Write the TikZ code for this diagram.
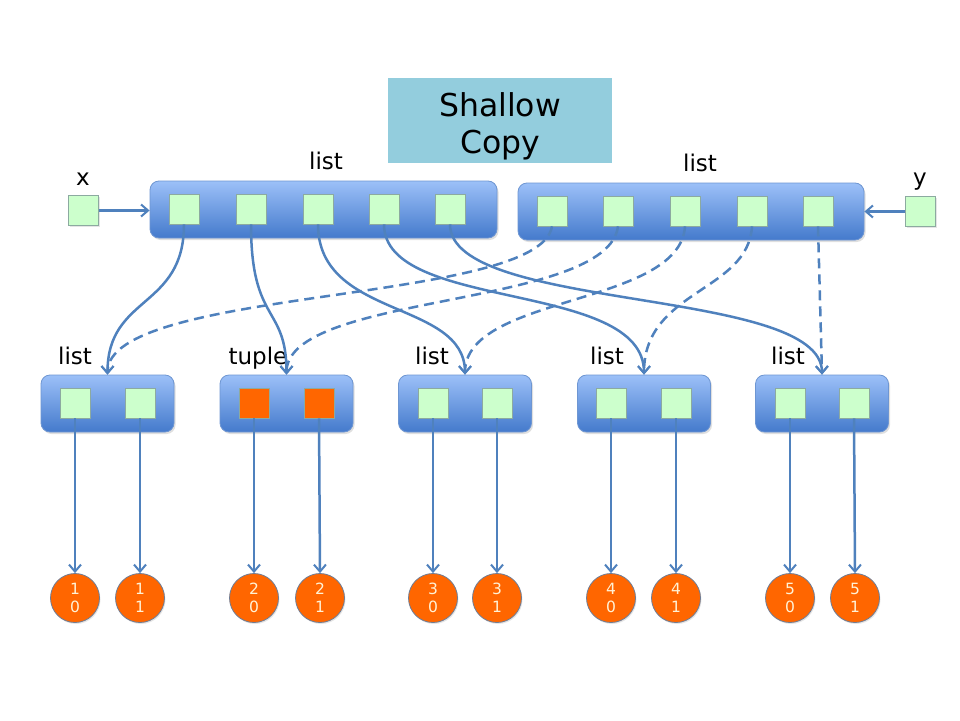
\documentclass[tikz,border=0pt]{standalone}
\usepackage{fontspec}
\setmainfont{DejaVu Sans}
\usetikzlibrary{arrows.meta,shadows}
\definecolor{arr}{RGB}{79,129,189}
\definecolor{boxtop}{RGB}{156,192,248}
\definecolor{boxbot}{RGB}{68,122,204}
\definecolor{boxedge}{RGB}{110,150,210}
\definecolor{cellfill}{RGB}{204,255,204}
\definecolor{celledge}{RGB}{140,170,160}
\definecolor{orng}{RGB}{255,102,0}
\definecolor{titlefill}{RGB}{147,205,221}
\definecolor{circtext}{RGB}{255,242,214}
\definecolor{circedge}{RGB}{110,125,150}
\begin{document}
\begin{tikzpicture}[x=1pt,y=-1pt,
  listbox/.style={draw=boxedge, line width=0.8pt, rounded corners=9pt, top color=boxtop, bottom color=boxbot,
    minimum height=57pt, inner sep=0pt, drop shadow={opacity=0.25, shadow xshift=1.5pt, shadow yshift=-2pt}},
  cell/.style={draw=celledge, line width=0.6pt, fill=cellfill, minimum size=30pt, inner sep=0pt,
    drop shadow={opacity=0.2, shadow xshift=1pt, shadow yshift=-1pt}},
  ocell/.style={cell, fill=orng},
  circ/.style={circle, draw=circedge, line width=0.8pt, fill=orng, minimum size=49pt, inner sep=0pt,
    text=circtext, align=center, font=\fontsize{15.5}{18}\selectfont,
    drop shadow={opacity=0.2, shadow xshift=1pt, shadow yshift=-1.5pt}},
  lbl/.style={anchor=base, inner sep=0pt, font=\fontsize{23}{27}\selectfont},
  conn/.style={draw=arr, line width=2.5pt, -{Straight Barb[length=7pt,width=12pt,line width=2pt]}},
  dconn/.style={conn, dash pattern=on 10pt off 6pt}
]
\useasboundingbox (0,0) rectangle (960,720);
\fill[white] (0,0) rectangle (960,720);

% title
\node[fill=titlefill, minimum width=224pt, minimum height=85pt, inner sep=0pt] (title) at (500,120.5) {};
\node[anchor=base, inner sep=0pt, font=\fontsize{31.5}{38}\selectfont] (t1txt) at (500,116) {Shallow};
\node[anchor=base, inner sep=0pt, font=\fontsize{31.5}{38}\selectfont] (t2txt) at (500,153) {Copy};

% top lists
\node[listbox, minimum width=347pt] (L1) at (323.5,209.5) {};
\node[listbox, minimum width=346pt] (L2) at (691,211.5) {};
\node[lbl] (l1lbl) at (326,169) {list};
\node[lbl] (l2lbl) at (700,171) {list};

\foreach \i/\xx in {1/184,2/251,3/318,4/384,5/450} \node[cell] (a\i) at (\xx,209) {};
\foreach \i/\xx in {1/552,2/618,3/685,4/752,5/818} \node[cell] (u\i) at (\xx,211) {};

% x and y
\node[cell] (xs) at (83.5,210.5) {};
\node[cell] (ys) at (920.5,211.5) {};
\node[lbl] (xlbl) at (83,185) {x};
\node[lbl] (ylbl) at (920,185) {y};
\draw[conn] (xs.east) -- (xs.east -| L1.west);
\draw[conn] (ys.west) -- (ys.west -| L2.east);

% bottom lists
\node[listbox, minimum width=133pt] (b1) at (107.5,403.5) {};
\node[listbox, minimum width=133pt] (b2) at (286.5,403.5) {};
\node[listbox, minimum width=133pt] (b3) at (465,403.5) {};
\node[listbox, minimum width=133pt] (b4) at (644,403.5) {};
\node[listbox, minimum width=133pt] (b5) at (822,403.5) {};
\node[lbl] (b1lbl) at (75,364) {list};
\node[lbl] (b2lbl) at (258,364) {tuple};
\node[lbl] (b3lbl) at (432,364) {list};
\node[lbl] (b4lbl) at (607,364) {list};
\node[lbl] (b5lbl) at (788,364) {list};

\node[cell] (c10) at (75,403) {};
\node[cell] (c11) at (140,403) {};
\node[ocell] (c20) at (254,403) {};
\node[ocell] (c21) at (319,403) {};
\node[cell] (c30) at (433,403) {};
\node[cell] (c31) at (497,403) {};
\node[cell] (c40) at (611,403) {};
\node[cell] (c41) at (676,403) {};
\node[cell] (c50) at (790,403) {};
\node[cell] (c51) at (854,403) {};

% circles
\node[circ] (o10) at (75,598) {1\\0};
\node[circ] (o11) at (140,598) {1\\1};
\node[circ] (o20) at (254,598) {2\\0};
\node[circ] (o21) at (320,598) {2\\1};
\node[circ] (o30) at (433,598) {3\\0};
\node[circ] (o31) at (497,598) {3\\1};
\node[circ] (o40) at (611,598) {4\\0};
\node[circ] (o41) at (676,598) {4\\1};
\node[circ] (o50) at (790,598) {5\\0};
\node[circ] (o51) at (855,598) {5\\1};

\foreach \n in {10,11,20,21,30,31,40,41,50,51}
  \draw[conn] (c\n.south) -- (o\n.north);

% solid connectors from x's list
\draw[conn] (a1.south) .. controls +(0,85) and +(0,-80) .. (b1.north);
\draw[conn] (a2.south) .. controls +(0,100) and +(0,-70) .. (b2.north);
\draw[conn] (a3.south) .. controls +(0,95) and +(0,-75) .. (b3.north);
\draw[conn] (a4.south) .. controls +(0,88) and +(0,-95) .. (b4.north);
\draw[conn] (a5.south) .. controls +(0,88) and +(0,-88) .. (b5.north);

% dashed connectors from y's list
\draw[dconn] (u1.south) .. controls +(-12,78) and +(0,-88) .. (b1.north);
\draw[dconn] (u2.south) .. controls +(-10,82) and +(0,-82) .. (b2.north);
\draw[dconn] (u3.south) .. controls +(-5,80) and +(0,-80) .. (b3.north);
\draw[dconn] (u4.south) .. controls +(-4,66) and +(0,-85) .. (b4.north);
\draw[dconn] (u5.south) -- (b5.north);
\end{tikzpicture}
\end{document}
